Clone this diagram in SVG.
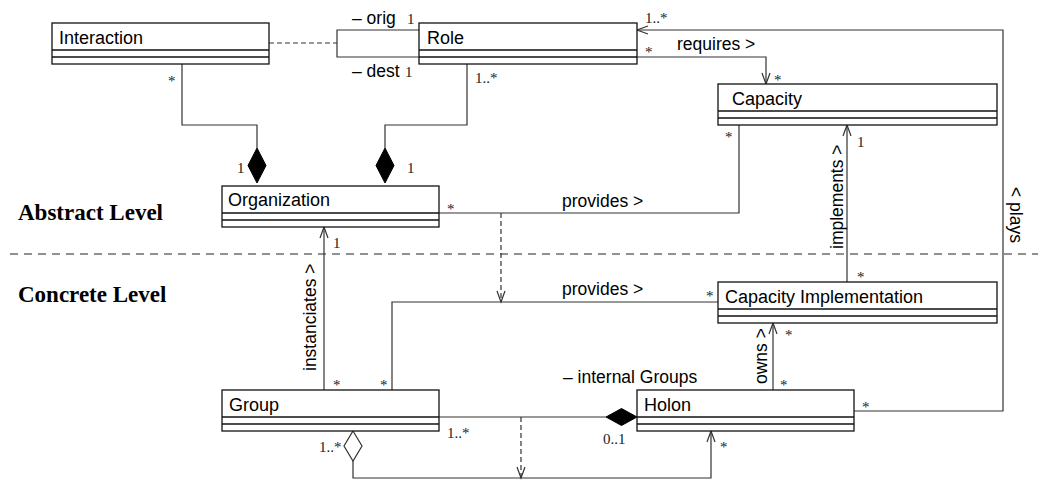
<svg xmlns="http://www.w3.org/2000/svg" width="1038" height="482" viewBox="0 0 1038 482">
<style>
.box{fill:#fff;stroke:#111;stroke-width:1.3}
.sep{stroke:#111;stroke-width:1.3}
.cn{font-family:"Liberation Sans",Arial,sans-serif;font-size:18px;fill:#000}
.lb{font-family:"Liberation Sans",Arial,sans-serif;font-size:17.5px;fill:#000}
.m{font-family:"Liberation Serif","Times New Roman",serif;font-size:15px;fill:#222}
.lv{font-family:"Liberation Serif","Times New Roman",serif;font-size:23px;font-weight:bold;fill:#000}
.c{fill:none;stroke:#333;stroke-width:1.2}
.d{fill:none;stroke:#333;stroke-width:1.2;stroke-dasharray:5,3}
.fd{fill:#000;stroke:#000;stroke-width:1}
.hd{fill:#fff;stroke:#333;stroke-width:1.2}
</style>
<defs>
<marker id="arr" markerUnits="userSpaceOnUse" markerWidth="14" markerHeight="10" refX="11" refY="4" orient="auto" overflow="visible">
<path d="M0,0 L11,4 L0,8" fill="none" stroke="#333" stroke-width="1.2"/>
</marker>
</defs>
<rect width="1038" height="482" fill="#fff"/>
<g id="levels">
<line x1="10" y1="254" x2="1038" y2="254" stroke="#222" stroke-width="1.2" stroke-dasharray="8,6"/>
<text class="lv" x="18" y="220">Abstract Level</text>
<text class="lv" x="18" y="302">Concrete Level</text>
</g>
<g id="connectors">
<path class="d" d="M269,43 H337" stroke-dasharray="6,4"/>
<path class="c" d="M419,30 H337 V57 H419"/>
<path class="c" d="M182,64 V125 H257 V148"/>
<path class="fd" d="M257,148 L266,165.5 L257,183 L248,165.5 Z"/>
<path class="c" d="M467,64 V125 H385 V148"/>
<path class="fd" d="M385,148 L394,165.5 L385,183 L376,165.5 Z"/>
<path class="c" d="M637,57 H766 V84" marker-end="url(#arr)"/>
<path class="c" d="M854,411 H1003 V30 H637" marker-end="url(#arr)"/>
<path class="c" d="M439,213 H739 V125"/>
<path class="d" d="M501,213 V302" marker-end="url(#arr)"/>
<path class="c" d="M847,282 V125" marker-end="url(#arr)"/>
<path class="c" d="M324,390 V227" marker-end="url(#arr)"/>
<path class="c" d="M392,390 V302 H718"/>
<path class="c" d="M773,390 V323" marker-end="url(#arr)"/>
<path class="c" d="M439,417 H606"/>
<path class="fd" d="M606,417 L621.5,408.5 L637,417 L621.5,425.5 Z"/>
<path class="d" d="M521,417 V478" marker-end="url(#arr)"/>
<path class="hd" d="M353,431 L362,446 L353,461 L344,446 Z"/>
<path class="c" d="M353,461 V478 H711 V431" marker-end="url(#arr)"/>
</g>
<g id="labels">
<text class="lb" x="352" y="24">– orig</text><text class="m" x="407" y="24">1</text>
<text class="lb" x="352" y="77">– dest</text><text class="m" x="405" y="77">1</text>
<text class="m" x="168" y="86">*</text>
<text class="m" x="475" y="83">1..*</text>
<text class="m" x="237" y="173">1</text>
<text class="m" x="407" y="173">1</text>
<text class="m" x="645" y="23">1..*</text>
<text class="m" x="645" y="57">*</text>
<text class="lb" x="677" y="50">requires &gt;</text>
<text class="m" x="774" y="85">*</text>
<text class="m" x="725" y="142">*</text>
<text class="m" x="857" y="147">1</text>
<text class="lb" transform="translate(843,249) rotate(-90)">implements &gt;</text>
<text class="lb" transform="translate(1010,187) rotate(90)">&lt; plays</text>
<text class="m" x="447" y="214">*</text>
<text class="lb" x="562" y="207">provides &gt;</text>
<text class="m" x="333" y="248">1</text>
<text class="lb" x="562" y="295">provides &gt;</text>
<text class="m" x="706" y="301">*</text>
<text class="m" x="857" y="282">*</text>
<text class="lb" transform="translate(316,371) rotate(-90)">instanciates &gt;</text>
<text class="m" x="333" y="390">*</text>
<text class="m" x="380" y="390">*</text>
<text class="lb" transform="translate(767,384) rotate(-90)" font-size="17">owns &gt;</text>
<text class="m" x="785" y="340">*</text>
<text class="m" x="780" y="390">*</text>
<text class="lb" x="563" y="383">– internal Groups</text>
<text class="m" x="447" y="438">1..*</text>
<text class="m" x="603" y="444">0..1</text>
<text class="m" x="319" y="452">1..*</text>
<text class="m" x="720" y="452">*</text>
<text class="m" x="862" y="412">*</text>
</g>
<g id="Interaction">
<rect class="box" x="52" y="23" width="217" height="41"/>
<line class="sep" x1="52" y1="50" x2="269" y2="50"/><line class="sep" x1="52" y1="57" x2="269" y2="57"/>
<text class="cn" x="59" y="44">Interaction</text>
</g>
<g id="Role">
<rect class="box" x="419" y="23" width="218" height="41"/>
<line class="sep" x1="419" y1="50" x2="637" y2="50"/><line class="sep" x1="419" y1="57" x2="637" y2="57"/>
<text class="cn" x="427" y="44">Role</text>
</g>
<g id="Capacity">
<rect class="box" x="718" y="84" width="279" height="41"/>
<line class="sep" x1="718" y1="111" x2="997" y2="111"/><line class="sep" x1="718" y1="118" x2="997" y2="118"/>
<text class="cn" x="732" y="105">Capacity</text>
</g>
<g id="Organization">
<rect class="box" x="222" y="186" width="217" height="41"/>
<line class="sep" x1="222" y1="213" x2="439" y2="213"/><line class="sep" x1="222" y1="220" x2="439" y2="220"/>
<text class="cn" x="228" y="206">Organization</text>
</g>
<g id="CapacityImplementation">
<rect class="box" x="718" y="282" width="279" height="41"/>
<line class="sep" x1="718" y1="309" x2="997" y2="309"/><line class="sep" x1="718" y1="316" x2="997" y2="316"/>
<text class="cn" x="725" y="303">Capacity Implementation</text>
</g>
<g id="Group">
<rect class="box" x="222" y="390" width="217" height="41"/>
<line class="sep" x1="222" y1="417" x2="439" y2="417"/><line class="sep" x1="222" y1="424" x2="439" y2="424"/>
<text class="cn" x="229" y="411">Group</text>
</g>
<g id="Holon">
<rect class="box" x="637" y="390" width="217" height="41"/>
<line class="sep" x1="637" y1="417" x2="854" y2="417"/><line class="sep" x1="637" y1="424" x2="854" y2="424"/>
<text class="cn" x="644" y="411">Holon</text>
</g>
</svg>
